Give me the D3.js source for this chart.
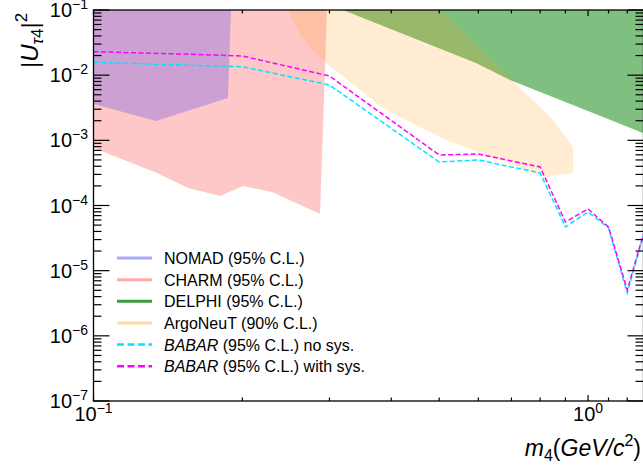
<!DOCTYPE html>
<html><head><meta charset="utf-8">
<script src="https://cdn.jsdelivr.net/npm/d3@7"></script>
<style>body{margin:0;background:#fff}svg{display:block}text{font-family:"Liberation Sans",Arial,sans-serif}</style>
</head><body>
<svg id="c" width="643" height="468"></svg>
<script>
// ---- data ----
const nomadMass = [0.1, 0.1897, 0.187, 0.1338, 0.1];
const nomadU2   = [0.1, 0.1, 4.47e-3, 1.98e-3, 3.61e-3];
const charmMass = [0.1, 0.2966, 0.2871, 0.2296, 0.2006, 0.1803, 0.1553, 0.1344, 0.1];
const charmU2   = [0.1, 0.1, 7.41e-5, 1.61e-4, 1.99e-4, 1.40e-4, 1.86e-4, 3.15e-4, 7.63e-4];
const delphiMass = [0.3195, 0.5935, 0.6955, 1.0723, 1.2919, 1.45, 1.45];
const delphiU2   = [0.1, 0.01537, 8.43e-3, 2.28e-3, 1.30e-3, 0.95e-3, 0.1];
const argoMass = [0.2473, 0.2616, 0.2779, 0.2953, 0.3796, 0.4089, 0.5163, 0.6047, 0.8225, 0.9326, 0.9326, 0.8417, 0.6955, 0.5020];
const argoU2   = [0.1, 0.04134, 0.02433, 0.01537, 3.36e-3, 2.45e-3, 1.01e-3, 6.39e-4, 2.74e-4, 3.15e-4, 7.90e-4, 2.20e-3, 9.05e-3, 0.1];
const babarMass    = [0.1, 0.15, 0.2, 0.3, 0.5, 0.6, 0.8, 0.9, 1.0, 1.1, 1.2, 1.3];
const babarNoSys   = [0.01576, 0.01432, 0.01349, 7.07e-3, 4.65e-4, 4.99e-4, 3.15e-4, 4.68e-5, 7.95e-5, 4.52e-5, 4.54e-6, 3.9e-5];
const babarWithSys = [0.0229, 0.0211, 0.0197, 9.71e-3, 5.96e-4, 6.17e-4, 3.90e-4, 5.58e-5, 8.84e-5, 4.68e-5, 5.05e-6, 4.1e-5];
const yMajor = [1e-7, 1e-6, 1e-5, 1e-4, 1e-3, 1e-2, 1e-1];
const yMajorExp = ["−7","−6","−5","−4","−3","−2","−1"];
const xMajor = [0.1, 1];
const xMajorExp = ["−1","0"];
const legendLabels = [
  {it:"", post:"NOMAD (95% C.L.)"},
  {it:"", post:"CHARM (95% C.L.)"},
  {it:"", post:"DELPHI (95% C.L.)"},
  {it:"", post:"ArgoNeuT (90% C.L.)"},
  {it:"BABAR", post:" (95% C.L.) no sys."},
  {it:"BABAR", post:" (95% C.L.) with sys."}
];

// ---- layout ----
const L = 93.5, R = 643.5, T = 10, B = 401;
const x = d3.scaleLog().domain([0.1, 1.2945]).range([L, R]);
const y = d3.scaleLog().domain([1e-7, 0.1]).range([B, T]);
const svg = d3.select("#c");

svg.append("defs").append("clipPath").attr("id","clip")
  .append("rect").attr("x",L).attr("y",T).attr("width",R-L).attr("height",B-T);
const g = svg.append("g").attr("clip-path","url(#clip)");

const area = (ms, us) => d3.line().x(d=>x(d[0])).y(d=>y(d[1]))(ms.map((m,i)=>[m,us[i]])) + "Z";

g.append("path").attr("d", area(charmMass, charmU2)).attr("fill","rgb(255,0,0)").attr("fill-opacity",0.216);
g.append("path").attr("d", area(nomadMass, nomadU2)).attr("fill","rgb(0,0,255)").attr("fill-opacity",0.2);
g.append("path").attr("d", area(delphiMass, delphiU2)).attr("fill","rgb(0,128,0)").attr("fill-opacity",0.5);
g.append("path").attr("d", area(argoMass, argoU2)).attr("fill","rgb(255,160,30)").attr("fill-opacity",0.2);

const line = d3.line().x(d=>x(d[0])).y(d=>y(d[1]));
g.append("path").attr("d", line(babarMass.map((m,i)=>[m,babarNoSys[i]])))
  .attr("fill","none").attr("stroke","#00e5ff").attr("stroke-width",1.5).attr("stroke-dasharray","5,2.5");
g.append("path").attr("d", line(babarMass.map((m,i)=>[m,babarWithSys[i]])))
  .attr("fill","none").attr("stroke","#ff00ff").attr("stroke-width",1.5).attr("stroke-dasharray","5,2.5");

// ---- frame ----
svg.append("rect").attr("x",L).attr("y",T).attr("width",R-L).attr("height",B-T)
  .attr("fill","none").attr("stroke","#000").attr("stroke-width",1.3);

// y ticks
const ax = svg.append("g").attr("stroke","#000").attr("stroke-width",1.2);
for (let e = -7; e < -1; e++) {
  for (let k = 2; k <= 9; k++) {
    const v = k * Math.pow(10, e), py = y(v);
    ax.append("line").attr("x1",L).attr("x2",L+8).attr("y1",py).attr("y2",py);
    ax.append("line").attr("x1",R).attr("x2",R-8).attr("y1",py).attr("y2",py);
  }
}
yMajor.forEach(v => {
  const py = y(v);
  ax.append("line").attr("x1",L).attr("x2",L+16).attr("y1",py).attr("y2",py);
  ax.append("line").attr("x1",R).attr("x2",R-16).attr("y1",py).attr("y2",py);
});
// x ticks
const xMinor = [0.2,0.3,0.4,0.5,0.6,0.7,0.8,0.9,1.1,1.2];
xMinor.forEach(v => {
  const px = x(v);
  ax.append("line").attr("x1",px).attr("x2",px).attr("y1",B).attr("y2",B-3.5);
  ax.append("line").attr("x1",px).attr("x2",px).attr("y1",T).attr("y2",T+3.5);
});
xMajor.forEach(v => {
  const px = x(v);
  ax.append("line").attr("x1",px).attr("x2",px).attr("y1",B).attr("y2",B-6);
  ax.append("line").attr("x1",px).attr("x2",px).attr("y1",T).attr("y2",T+6);
});

// tick labels
yMajor.forEach((v,i) => {
  const t = svg.append("text").attr("x",88).attr("y",y(v)+7).attr("text-anchor","end")
    .attr("font-size",20).attr("fill","#000");
  t.append("tspan").text("10");
  t.append("tspan").attr("font-size",14).attr("dy",-8).text(yMajorExp[i]);
});
xMajor.forEach((v,i) => {
  const t = svg.append("text").attr("x",x(v)).attr("y",421).attr("text-anchor","middle")
    .attr("font-size",20).attr("fill","#000");
  t.append("tspan").text("10");
  t.append("tspan").attr("font-size",14).attr("dy",-8).text(xMajorExp[i]);
});

// axis titles
const yl = svg.append("text").attr("transform","translate(38,68) rotate(-90)")
  .attr("font-size",24).attr("fill","#000");
yl.append("tspan").text("|");
yl.append("tspan").attr("font-style","italic").text("U");
yl.append("tspan").attr("font-size",17).attr("dy",5).attr("font-style","italic").text("τ");
yl.append("tspan").attr("font-size",17).text("4");
yl.append("tspan").attr("dy",-5).text("|");
yl.append("tspan").attr("font-size",17).attr("dy",-11).text("2");

const xl = svg.append("text").attr("x",641).attr("y",456).attr("text-anchor","end")
  .attr("font-size",23).attr("fill","#000");
xl.append("tspan").attr("font-style","italic").text("m");
xl.append("tspan").attr("font-size",16).attr("dy",5).text("4");
xl.append("tspan").attr("dy",-5).text("(");
xl.append("tspan").attr("font-style","italic").text("GeV/c");
xl.append("tspan").attr("font-size",16).attr("dy",-10).text("2");
xl.append("tspan").attr("dy",10).text(")");

// legend
const legStyles = [
  {c:"#a9a9fb", w:3, d:null},
  {c:"#ffabab", w:3, d:null},
  {c:"#3d9b3d", w:3, d:null},
  {c:"#ffdba8", w:3, d:null},
  {c:"#00e5ff", w:2.5, d:"7,3.5"},
  {c:"#ff00ff", w:2.5, d:"7,3.5"}
];
legendLabels.forEach((lab,i) => {
  const cy = 258 + i*21.65;
  const ln = svg.append("line").attr("x1",117).attr("x2",152).attr("y1",cy).attr("y2",cy)
    .attr("stroke",legStyles[i].c).attr("stroke-width",legStyles[i].w);
  if (legStyles[i].d) ln.attr("stroke-dasharray",legStyles[i].d);
  const t = svg.append("text").attr("x",164).attr("y",cy+6).attr("font-size",16).attr("fill","#000");
  if (lab.it) t.append("tspan").attr("font-style","italic").text(lab.it);
  t.append("tspan").text(lab.post);
});
</script>
</body></html>
